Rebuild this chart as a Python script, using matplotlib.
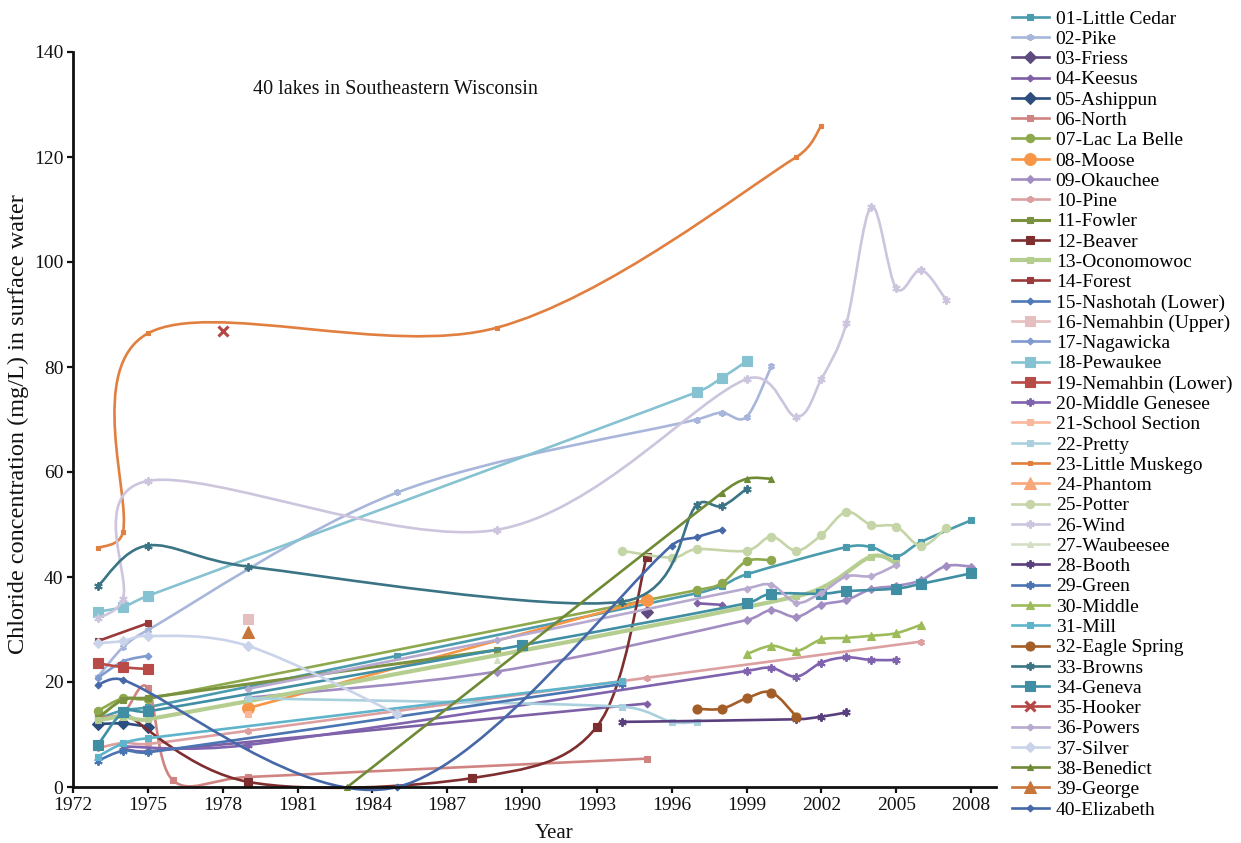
import numpy as np
import matplotlib
matplotlib.use("Agg")
import matplotlib.pyplot as plt
from matplotlib.path import Path
from matplotlib.patches import PathPatch
from matplotlib.lines import Line2D

plt.rcParams['font.family'] = ['Liberation Serif', 'DejaVu Serif']

nan = float('nan')

# ---- chloride data (mg/L) per lake; nan marks a missing year that breaks the line ----
little_cedar_yr = [1973, 1974, 1975, 1985, 1997, 1998, 1999, 2003, 2004, 2005, 2006, 2008]
little_cedar_cl = [13.0, 14.6, 15.2, 25.0, 36.9, 38.3, 40.5, 45.7, 45.7, 43.9, 46.7, 50.8]
pike_yr = [1973, 1974, 1975, 1985, 1997, 1998, 1999, 2000]
pike_cl = [21.0, 26.6, 29.9, 56.1, 70.0, 71.3, 70.5, 80.2]
friess_yr = [1995]
friess_cl = [33.3]
keesus_yr = [1974, 1975, 1995, 1996, 1997, 1998]
keesus_cl = [7.3, 6.8, 15.9, nan, 35.0, 34.7]
ashippun_yr = [1973, 1974, 1975]
ashippun_cl = [12.0, 12.1, 11.5]
north_yr = [1973, 1974, 1975, 1976, 1979, 1995]
north_cl = [13.3, 14.0, 18.9, 1.3, 1.9, 5.4]
lac_la_belle_yr = [1973, 1974, 1975, 1997, 1998, 1999, 2000]
lac_la_belle_cl = [14.5, 16.9, 16.8, 37.5, 38.8, 43.0, 43.2]
moose_yr = [1979, 1995]
moose_cl = [15.0, 35.6]
okauchee_yr = [1979, 1989, 1999, 2000, 2001, 2002, 2003, 2004, 2005, 2006, 2007, 2008]
okauchee_cl = [17.0, 22.0, 31.8, 33.7, 32.4, 34.7, 35.6, 37.7, 38.3, 39.4, 42.1, 42.0]
pine_yr = [1973, 1974, 1975, 1979, 1995, 2006]
pine_cl = [7.4, 8.4, 8.2, 10.7, 20.8, 27.7]
fowler_yr = [1973, 1974, 1975, 1989]
fowler_cl = [13.1, 16.6, 17.0, 26.1]
beaver_yr = [1974, 1979, 1988, 1993, 1995]
beaver_cl = [14.3, 1.0, 1.7, 11.5, 43.9]
oconomowoc_yr = [1973, 1974, 1975, 2001, 2004, 2005]
oconomowoc_cl = [12.7, 13.4, 12.9, 36.3, 43.9, 42.6]
forest_yr = [1973, 1975]
forest_cl = [27.8, 31.2]
nashotah_yr = []
nashotah_cl = []
nemahbin_up_yr = [1979]
nemahbin_up_cl = [32.0]
nagawicka_yr = [1973, 1974, 1975]
nagawicka_cl = [20.8, 23.9, 25.0]
pewaukee_yr = [1973, 1974, 1975, 1997, 1998, 1999]
pewaukee_cl = [33.4, 34.3, 36.4, 75.2, 77.9, 81.1]
nemahbin_low_yr = [1973, 1974, 1975]
nemahbin_low_cl = [23.6, 22.8, 22.5]
middle_genesee_yr = [1974, 1979, 1999, 2000, 2001, 2002, 2003, 2004, 2005]
middle_genesee_cl = [7.7, 8.0, 22.1, 22.7, 21.0, 23.7, 24.7, 24.2, 24.2]
school_section_yr = [1979]
school_section_cl = [14.0]
pretty_yr = [1979, 1994, 1996, 1997]
pretty_cl = [16.9, 15.3, 12.4, 12.4]
little_muskego_yr = [1973, 1974, 1975, 1989, 2001, 2002]
little_muskego_cl = [45.5, 48.5, 86.4, 87.5, 120.0, 126.0]
phantom_yr = []
phantom_cl = []
potter_yr = [1994, 1996, 1997, 1999, 2000, 2001, 2002, 2003, 2004, 2005, 2006, 2007]
potter_cl = [45.0, 43.7, 45.3, 45.0, 47.7, 45.0, 48.0, 52.4, 49.9, 49.6, 45.9, 49.3]
wind_yr = [1973, 1974, 1975, 1989, 1999, 2001, 2002, 2003, 2004, 2005, 2006, 2007]
wind_cl = [32.1, 35.9, 58.3, 49.0, 77.7, 70.5, 77.7, 88.3, 110.5, 95.0, 98.5, 92.8]
waubeesee_yr = [1989]
waubeesee_cl = [24.2]
booth_yr = [1994, 2001, 2002, 2003]
booth_cl = [12.4, 12.9, 13.4, 14.2]
green_yr = [1973, 1974, 1975, 1994]
green_cl = [5.0, 6.9, 6.6, 19.6]
middle_yr = [1999, 2000, 2001, 2002, 2003, 2004, 2005, 2006]
middle_cl = [25.3, 26.9, 25.9, 28.1, 28.4, 28.8, 29.3, 30.9]
mill_yr = [1973, 1974, 1975, 1994]
mill_cl = [5.8, 8.3, 9.3, 20.1]
eagle_spring_yr = [1997, 1998, 1999, 2000, 2001]
eagle_spring_cl = [14.9, 14.9, 16.9, 18.0, 13.4]
browns_yr = [1973, 1975, 1979, 1994, 1997, 1998, 1999]
browns_cl = [38.3, 46.0, 42.0, 35.3, 53.7, 53.5, 56.8]
geneva_yr = [1973, 1974, 1975, 1990, 1999, 2000, 2002, 2003, 2005, 2006, 2008]
geneva_cl = [8.0, 14.2, 14.4, 27.0, 35.0, 36.8, 36.8, 37.3, 37.8, 38.7, 40.7]
hooker_yr = [1978]
hooker_cl = [86.9]
powers_yr = [1979, 1989, 1999, 2000, 2001, 2002, 2003, 2004, 2005]
powers_cl = [18.7, 28.0, 37.8, 38.5, 35.1, 37.0, 40.1, 40.2, 42.3]
silver_yr = [1973, 1974, 1975, 1979, 1985]
silver_cl = [27.4, 27.8, 28.8, 26.9, 13.9]
benedict_yr = [1983, 1998, 1999, 2000]
benedict_cl = [0.0, 56.0, 58.7, 58.7]
george_yr = [1979]
george_cl = [29.5]
elizabeth_yr = [1973, 1974, 1985, 1996, 1997, 1998]
elizabeth_cl = [19.5, 20.4, 0.0, 46.0, 47.6, 49.0]

x_ticks = list(range(1972, 2009, 3))
y_ticks = list(range(0, 141, 20))

STAR = (6, 2, 0)  # six-armed asterisk

# (label, years, values, color, marker, markersize, linewidth)
series = [
    ("01-Little Cedar", little_cedar_yr, little_cedar_cl, "#4A9BAE", "s", 4, 1.9),
    ("02-Pike", pike_yr, pike_cl, "#A7B6DA", STAR, 5, 1.9),
    ("03-Friess", friess_yr, friess_cl, "#5E4A7E", "D", 6.5, 1.9),
    ("04-Keesus", keesus_yr, keesus_cl, "#7D5FA6", "D", 3.5, 1.9),
    ("05-Ashippun", ashippun_yr, ashippun_cl, "#2C4D7E", "D", 6.5, 1.9),
    ("06-North", north_yr, north_cl, "#D08481", "s", 4, 1.9),
    ("07-Lac La Belle", lac_la_belle_yr, lac_la_belle_cl, "#8EA94D", "o", 6, 1.9),
    ("08-Moose", moose_yr, moose_cl, "#F79646", "o", 8.5, 1.9),
    ("09-Okauchee", okauchee_yr, okauchee_cl, "#A28DC2", "D", 4.5, 1.9),
    ("10-Pine", pine_yr, pine_cl, "#DDA0A0", STAR, 5, 1.9),
    ("11-Fowler", fowler_yr, fowler_cl, "#7A9240", "s", 4.5, 2.2),
    ("12-Beaver", beaver_yr, beaver_cl, "#7E2E2E", "s", 5.5, 1.9),
    ("13-Oconomowoc", oconomowoc_yr, oconomowoc_cl, "#B5CD8E", "s", 5, 3.0),
    ("14-Forest", forest_yr, forest_cl, "#9A3A3A", "s", 4, 1.9),
    ("15-Nashotah (Lower)", nashotah_yr, nashotah_cl, "#4F79B8", "D", 3.5, 1.9),
    ("16-Nemahbin (Upper)", nemahbin_up_yr, nemahbin_up_cl, "#E5BFC0", "s", 7, 1.9),
    ("17-Nagawicka", nagawicka_yr, nagawicka_cl, "#7E9BD0", "D", 3.5, 1.9),
    ("18-Pewaukee", pewaukee_yr, pewaukee_cl, "#86C2D1", "s", 7, 1.9),
    ("19-Nemahbin (Lower)", nemahbin_low_yr, nemahbin_low_cl, "#B84A47", "s", 7, 1.9),
    ("20-Middle Genesee", middle_genesee_yr, middle_genesee_cl, "#8063AE", STAR, 6, 1.9),
    ("21-School Section", school_section_yr, school_section_cl, "#F9B79B", "s", 5, 1.9),
    ("22-Pretty", pretty_yr, pretty_cl, "#A9D0DD", "s", 5, 1.9),
    ("23-Little Muskego", little_muskego_yr, little_muskego_cl, "#E17F3F", "s", 3.5, 1.9),
    ("24-Phantom", phantom_yr, phantom_cl, "#F7A77A", "^", 8, 1.9),
    ("25-Potter", potter_yr, potter_cl, "#C5D5A8", "o", 6, 1.9),
    ("26-Wind", wind_yr, wind_cl, "#CCC5DD", STAR, 6, 1.9),
    ("27-Waubeesee", waubeesee_yr, waubeesee_cl, "#D3DFC4", "^", 4.5, 1.9),
    ("28-Booth", booth_yr, booth_cl, "#5A3F7E", STAR, 6, 1.9),
    ("29-Green", green_yr, green_cl, "#4A74B2", STAR, 6, 1.9),
    ("30-Middle", middle_yr, middle_cl, "#9DBB59", "^", 6, 1.9),
    ("31-Mill", mill_yr, mill_cl, "#5DB4CB", "s", 4.5, 1.9),
    ("32-Eagle Spring", eagle_spring_yr, eagle_spring_cl, "#A35D27", "o", 6.5, 1.9),
    ("33-Browns", browns_yr, browns_cl, "#3A7485", STAR, 6, 1.9),
    ("34-Geneva", geneva_yr, geneva_cl, "#3F8EA3", "s", 7, 1.9),
    ("35-Hooker", hooker_yr, hooker_cl, "#B54644", "x", 7, 1.9),
    ("36-Powers", powers_yr, powers_cl, "#B8A9CF", "D", 3.5, 1.9),
    ("37-Silver", silver_yr, silver_cl, "#C9D3EA", "D", 5, 1.9),
    ("38-Benedict", benedict_yr, benedict_cl, "#6F8A35", "^", 5, 1.9),
    ("39-George", george_yr, george_cl, "#C8753A", "^", 8, 1.9),
    ("40-Elizabeth", elizabeth_yr, elizabeth_cl, "#4668A8", "D", 3.5, 1.9),
]

W, H = 1241, 843
X0, X1, Y0, Y1 = 1972, 2009, 0, 140
AX_L, AX_R, AX_T, AX_B = 73, 996, 52, 787
# screen scale (pixels per data unit), used so curve smoothing works in drawing space
SX = (AX_R - AX_L) / (X1 - X0)
SY = (AX_B - AX_T) / (Y1 - Y0)


def smooth_path(xs, ys):
    """Cubic Bezier through the points; tangents from neighbours, each control
    handle limited to half the length of its segment."""
    pts = np.column_stack([np.asarray(xs, float) * SX, np.asarray(ys, float) * SY])
    n = len(pts)
    verts = [pts[0]]
    codes = [Path.MOVETO]
    for i in range(n - 1):
        p0 = pts[i - 1] if i > 0 else pts[i]
        p1 = pts[i]
        p2 = pts[i + 1]
        p3 = pts[i + 2] if i + 2 < n else pts[i + 1]
        half = np.hypot(*(p2 - p1)) / 2.0
        t1 = (p2 - p0) / 6.0
        t2 = (p3 - p1) / 6.0
        for t in (t1, t2):
            L = np.hypot(*t)
            if L > half and L > 0:
                t *= half / L
        verts += [p1 + t1, p2 - t2, p2]
        codes += [Path.CURVE4] * 3
    verts = np.array(verts)
    verts[:, 0] /= SX
    verts[:, 1] /= SY
    return Path(verts, codes)


def segments(xs, ys):
    seg_x, seg_y = [], []
    for x, y in zip(xs, ys):
        if np.isnan(y):
            if seg_x:
                yield seg_x, seg_y
            seg_x, seg_y = [], []
        else:
            seg_x.append(x)
            seg_y.append(y)
    if seg_x:
        yield seg_x, seg_y


def edge_width(marker):
    if marker == "x":
        return 2.2
    if marker == STAR:
        return 1.4
    return 0.8


fig = plt.figure(figsize=(W / 100, H / 100), dpi=100)
ax = fig.add_axes([AX_L / W, 1 - AX_B / H, (AX_R - AX_L) / W, (AX_B - AX_T) / H])

handles = []
for k, (label, yrs, vals, color, marker, ms, lw) in enumerate(series):
    z = 2 + k * 0.01
    mew = edge_width(marker)
    for sx, sy in segments(yrs, vals):
        if len(sx) > 1:
            patch = PathPatch(smooth_path(sx, sy), facecolor="none", edgecolor=color,
                              lw=lw, capstyle="round", joinstyle="round", zorder=z,
                              clip_on=False)
            ax.add_patch(patch)
        ax.plot(sx, sy, linestyle="none", marker=marker, ms=ms, color=color,
                mec=color, mew=mew, zorder=z + 0.005, clip_on=False)
    handles.append(Line2D([], [], color=color, lw=lw, marker=marker, ms=ms,
                          mec=color, mew=mew, label=label))

ax.set_xlim(X0, X1)
ax.set_ylim(Y0, Y1)
ax.set_xticks(x_ticks)
ax.set_yticks(y_ticks)
for side in ("top", "right"):
    ax.spines[side].set_visible(False)
for side in ("left", "bottom"):
    ax.spines[side].set_linewidth(2.0)
    ax.spines[side].set_color("#111111")
ax.tick_params(axis="both", direction="out", length=4, width=1.6, labelsize=14,
               colors="#111111", pad=3)

ax.text(1979.2, 132.8, "40 lakes in Southeastern Wisconsin", fontsize=14.5,
        ha="left", va="center", color="#111111")

fig.text(554 / W, 1 - 833 / H, "Year", fontsize=15, ha="center", va="center",
         color="#111111")
fig.text(18 / W, 1 - 424 / H, "Chloride concentration (mg/L) in surface water",
         fontsize=17.5, rotation=90, ha="center", va="center", color="#111111")

fig.legend(handles=handles, loc="upper left", bbox_to_anchor=(1012 / W, 1 - 10 / H),
           frameon=False, fontsize=14, handlelength=1.9, handletextpad=0.35,
           labelspacing=0.137, borderaxespad=0, borderpad=0)

fig.savefig("out.png", dpi=100)
